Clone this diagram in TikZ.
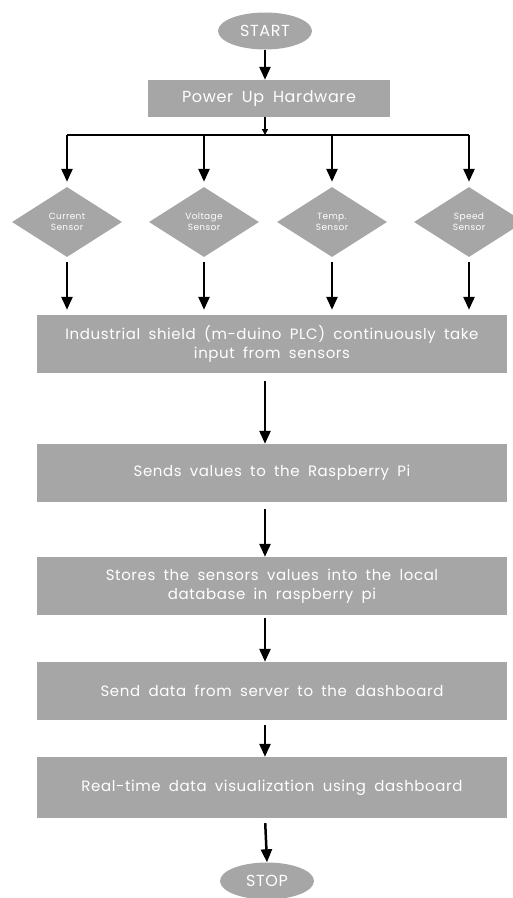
\documentclass[tikz,border=0pt]{standalone}
\usepackage{fontspec}
\setmainfont{Poppins}[LetterSpace=4,WordSpace=1.8]
\usetikzlibrary{shapes.geometric,arrows.meta,calc}
\definecolor{boxgray}{HTML}{A6A6A6}
\tikzset{
  flowbox/.style={rectangle,fill=boxgray,text=white,minimum width=470pt,minimum height=58pt,
    inner sep=0pt,align=center,font=\fontsize{15}{19}\selectfont},
  term/.style={ellipse,fill=boxgray,text=white,minimum width=94pt,minimum height=37pt,
    inner sep=0pt,font=\fontsize{16}{18}\selectfont},
  sensor/.style={diamond,fill=boxgray,text=white,minimum width=110pt,minimum height=70pt,
    inner sep=0pt,align=center,font=\fontsize{9}{11}\selectfont},
  link/.style={->,line width=2.5pt},
}

\begin{document}
\begin{tikzpicture}[x=1pt,y=-1pt,>={Triangle[width=11pt,length=13pt]}]
\useasboundingbox (0,0) rectangle (512,898);
\node[term] (start) at (265,31) {START};
\node[flowbox,minimum width=242pt,minimum height=37pt,font=\fontsize{16}{19}\selectfont] (power) at (269,98.5) {Power Up Hardware};
\coordinate (bus) at (265,135);
\node[sensor] (cur) at (67,222) {Current\\Sensor};
\node[sensor] (vol) at (204,222) {Voltage\\Sensor};
\node[sensor] (tmp) at (332,222) {Temp.\\Sensor};
\node[sensor] (spd) at (469,222) {Speed\\Sensor};
\node[flowbox] (shield) at (272,344) {Industrial shield (m-duino PLC) continuously take\\input from sensors};
\node[flowbox] (send) at (272,473) {Sends values to the Raspberry Pi};
\node[flowbox] (store) at (272,586) {Stores the sensors values into the local\\database in raspberry pi};
\node[flowbox] (server) at (272,691) {Send data from server to the dashboard};
\node[flowbox,minimum height=61pt] (visual) at (272,787.5) {Real-time data visualization using dashboard};
\node[term] (stop) at (267,881) {STOP};

\draw[link] (start.south) -- (start.south |- power.north);
\draw[->,line width=1.5pt,>={Triangle[width=6pt,length=6pt]}] (power.south -| start) -- (bus);
\draw[line width=2.5pt] (cur |- bus) -- (spd |- bus);
\draw[link,shorten >=5pt] (cur |- bus) -- (cur.north);
\draw[link,shorten >=5pt] (vol |- bus) -- (vol.north);
\draw[link,shorten >=5pt] (tmp |- bus) -- (tmp.north);
\draw[link,shorten >=5pt] (spd |- bus) -- (spd.north);
\draw[link,shorten <=5pt,shorten >=5pt] (cur.south) -- (cur.south |- shield.north);
\draw[link,shorten <=5pt,shorten >=5pt] (vol.south) -- (vol.south |- shield.north);
\draw[link,shorten <=5pt,shorten >=5pt] (tmp.south) -- (tmp.south |- shield.north);
\draw[link,shorten <=5pt,shorten >=5pt] (spd.south) -- (spd.south |- shield.north);
\draw[link,shorten <=8pt] (shield.south -| start) -- (send.north -| start);
\draw[link,shorten <=7pt] (send.south -| start) -- (store.north -| start);
\draw[link,shorten <=3pt] (store.south -| start) -- (server.north -| start);
\draw[link,shorten <=5pt] (server.south -| start) -- (visual.north -| start);
\draw[link,shorten <=5pt] (visual.south -| start) -- (stop.north);
\end{tikzpicture}
\end{document}
